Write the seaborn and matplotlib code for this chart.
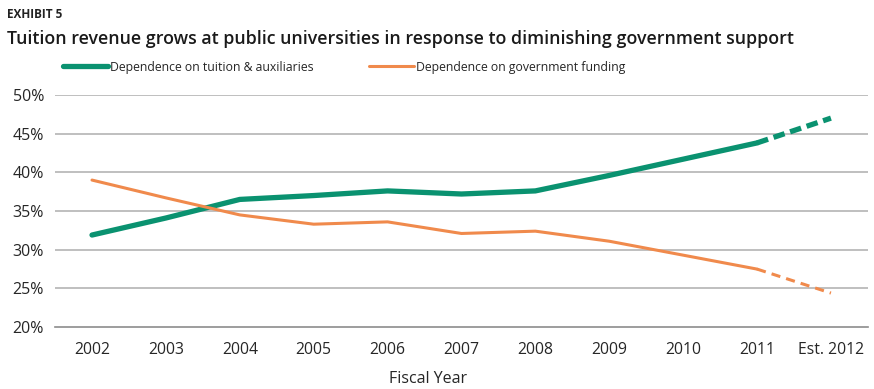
import numpy as np
import pandas as pd
import matplotlib.pyplot as plt
import seaborn as sns

# DATA READ FROM THE EXHIBIT

years = ['2002', '2003', '2004', '2005', '2006', '2007', '2008', '2009', '2010', '2011', 'Est. 2012']
tuition = [31.9, 34.1, 36.5, 37.0, 37.6, 37.2, 37.6, 39.6, 41.7, 43.8, 47.0]
government = [39.0, 36.7, 34.5, 33.3, 33.6, 32.1, 32.4, 31.1, 29.3, 27.5, 24.4]

green = '#0a9270'
orange = '#f08a4c'

df = pd.DataFrame({'pos': np.arange(len(years)), 'year': years,
                   'tuition': tuition, 'government': government})
actual = df.iloc[:10]
estimate = df.iloc[9:]

sns.set_style('white')
plt.rcParams['font.family'] = ['Open Sans', 'DejaVu Sans']

fig = plt.figure(figsize=(8.74, 3.89), dpi=100)
ax = fig.add_axes([0.063, 0.159, 0.930, 0.597])

# gridlines
for v in [25, 30, 35, 40, 45, 50]:
    ax.axhline(v, color='#b4b4b4', lw=1.2, zorder=0)

sns.lineplot(data=actual, x='pos', y='tuition', color=green, lw=3.8, ax=ax,
             label='Dependence on tuition & auxiliaries')
sns.lineplot(data=estimate, x='pos', y='tuition', color=green, lw=3.8, ax=ax,
             linestyle=(0, (2.2, 1.1)))
sns.lineplot(data=actual, x='pos', y='government', color=orange, lw=2.2, ax=ax,
             label='Dependence on government funding')
sns.lineplot(data=estimate, x='pos', y='government', color=orange, lw=2.2, ax=ax,
             linestyle=(0, (3, 2)))

ax.set_xlim(-0.5, len(years) - 0.5)
ax.set_ylim(20, 50)
ax.set_yticks([20, 25, 30, 35, 40, 45, 50])
ax.set_yticklabels([f'{v}%' for v in [20, 25, 30, 35, 40, 45, 50]], fontsize=11.5)
ax.tick_params(axis='y', length=0, pad=8)

# boundaries get tick marks, labels sit in the middle of each category
ax.set_xticks(np.arange(-0.5, len(years), 1.0))
ax.set_xticklabels([])
ax.tick_params(axis='x', which='major', direction='in', length=5, color='#8c8c8c', width=1.2)
ax.set_xticks(np.arange(len(years)), minor=True)
ax.set_xticklabels(years, minor=True, fontsize=11.3)
ax.tick_params(axis='x', which='minor', length=0, pad=11)

ax.set_xlabel('Fiscal Year', fontsize=11.5)
ax.xaxis.set_label_coords(0.459, -0.19)
ax.set_ylabel('')

for s in ['top', 'right', 'left']:
    ax.spines[s].set_visible(False)
ax.spines['bottom'].set_color('#8c8c8c')
ax.spines['bottom'].set_linewidth(1.2)

ax.legend(loc='center left', bbox_to_anchor=(63 / 874, 1 - 67 / 389),
          bbox_transform=fig.transFigure, ncol=2, frameon=False,
          fontsize=8.8, handlelength=3.7, handletextpad=0.15, columnspacing=4.5,
          borderaxespad=0, borderpad=0)

fig.text(0.008, 0.955, 'EXHIBIT 5', fontsize=8.5, fontweight='bold', color='#222222')
fig.text(0.008, 0.887, 'Tuition revenue grows at public universities in response to diminishing government support',
         fontsize=12.8, fontweight='semibold', color='#1a1a1a')

fig.savefig('out.png', dpi=100)
